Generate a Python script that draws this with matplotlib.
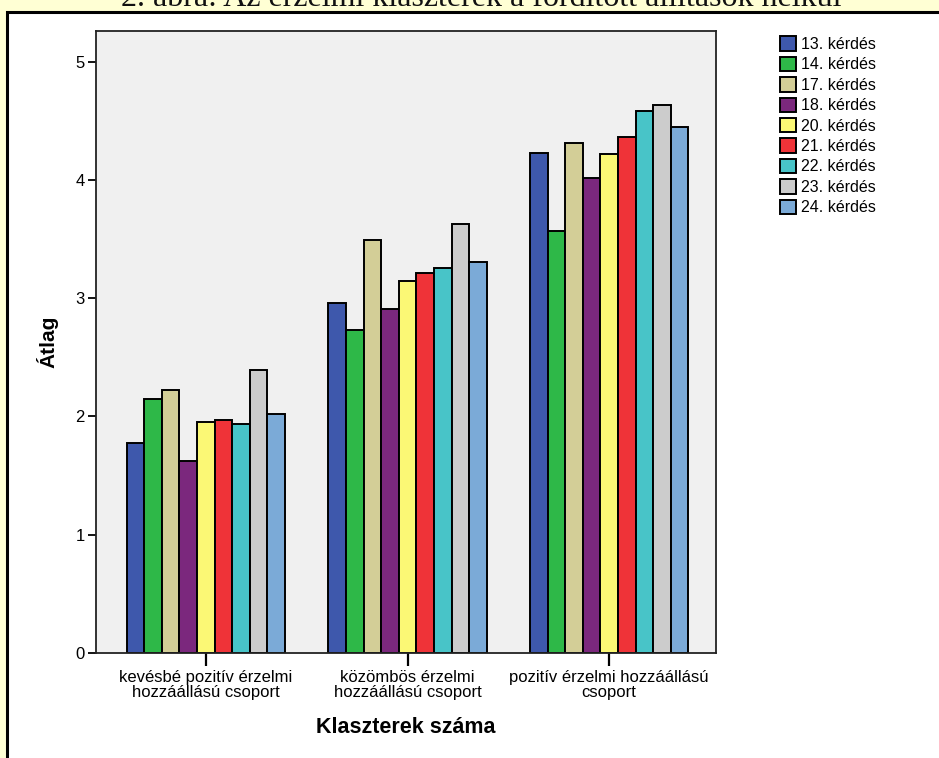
import numpy as np
import matplotlib

matplotlib.use("Agg")
import matplotlib.pyplot as plt
from matplotlib.patches import Rectangle

plt.rcParams["font.family"] = ["Liberation Sans", "DejaVu Sans"]

# adatok (leolvasva az ábráról)
groups = ["kevésbé pozitív érzelmi\nhozzáállású csoport",
          "közömbös érzelmi\nhozzáállású csoport",
          "pozitív érzelmi hozzáállású\ncsoport"]
questions = ["13. kérdés", "14. kérdés", "17. kérdés", "18. kérdés", "20. kérdés",
             "21. kérdés", "22. kérdés", "23. kérdés", "24. kérdés"]
q13 = [1.78, 2.96, 4.23]
q14 = [2.15, 2.73, 3.57]
q17 = [2.22, 3.49, 4.31]
q18 = [1.62, 2.91, 4.02]
q20 = [1.95, 3.15, 4.22]
q21 = [1.97, 3.21, 4.36]
q22 = [1.94, 3.26, 4.58]
q23 = [2.39, 3.63, 4.63]
q24 = [2.02, 3.31, 4.45]
series = [q13, q14, q17, q18, q20, q21, q22, q23, q24]
colors = ["#3E58AC", "#2EB848", "#D3CE97", "#7B287D", "#FBF875",
          "#EF3338", "#48C4C8", "#CCCCCC", "#7BAAD7"]

W, H = 939, 758
fig = plt.figure(figsize=(W / 100, H / 100), dpi=100)
fig.patch.set_facecolor("#FFFFD4")

# fehér panel fekete kerettel (a háttérben)
bg = fig.add_axes([0, 0, 1, 1], zorder=-1)
bg.axis("off")
bg.set_xlim(0, W); bg.set_ylim(H, 0)
bg.add_patch(Rectangle((7, 12), W + 20, H + 20, fc="white", ec="black", lw=2.2))
# levágott cím a tetején
bg.text(481, 6, "2. ábra: Az érzelmi klaszterek a fordított állítások nélkül",
        ha="center", va="baseline", fontsize=23, family=["Liberation Serif"], color="#111")

ax = fig.add_axes([96 / W, 1 - 653 / H, (716 - 96) / W, (653 - 31) / H], zorder=2)
ax.set_facecolor("#F0F0F0")

x = np.arange(len(groups))
n = len(series)
bw = 0.0873
for i, (vals, c, lab) in enumerate(zip(series, colors, questions)):
    ax.bar(x + (i - (n - 1) / 2) * bw, vals, bw, color=c, edgecolor="black",
           linewidth=1.4, label=lab, zorder=2)

ax.set_xlim(-0.545, 2.53)
ax.set_ylim(0, 5.26)
ax.set_yticks([0, 1, 2, 3, 4, 5])
ax.set_xticks(x)
ax.set_xticklabels(groups, fontsize=12, linespacing=1.05)
ax.tick_params(axis="y", length=6, width=1.3, labelsize=12, pad=2)
ax.tick_params(axis="x", length=9, width=1.6, pad=3)
for s in ax.spines.values():
    s.set_linewidth(1.3)
    s.set_color("#222")

ax.set_ylabel("Átlag", fontsize=15, fontweight="bold", labelpad=12)
ax.set_xlabel("Klaszterek száma", fontsize=15.5, fontweight="bold", labelpad=12)

leg = fig.legend(loc="upper left", bbox_to_anchor=(774 / W, 1 - 30 / H), frameon=False,
                 fontsize=11.5, handlelength=1.0, handleheight=1.0, handletextpad=0.3,
                 labelspacing=0.3, borderaxespad=0)

fig.savefig("out.png", dpi=100, facecolor=fig.get_facecolor())
